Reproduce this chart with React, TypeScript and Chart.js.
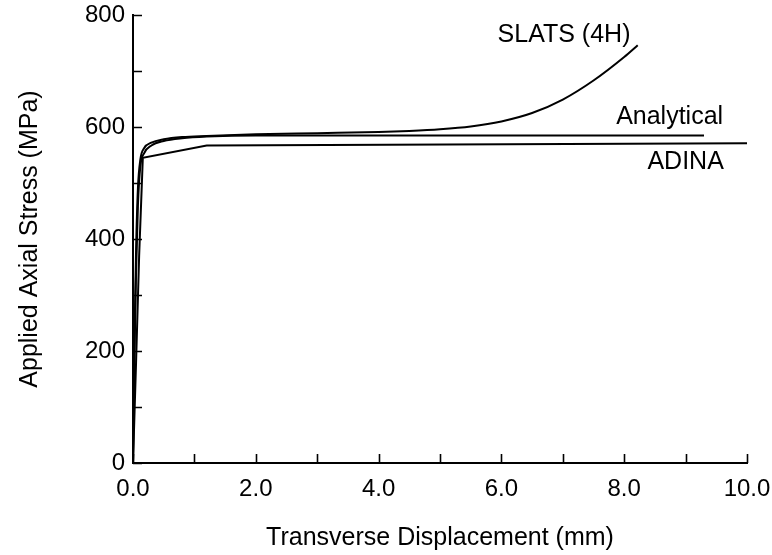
import React, { useEffect, useRef } from 'react';
import { Chart, registerables } from 'chart.js';

Chart.register(...registerables);

// Series data (x: transverse displacement in mm, y: applied axial stress in MPa)
const slatsX = [0, 0.02, 0.05, 0.08, 0.12, 0.18, 0.3, 0.5, 0.8, 1.2, 2, 3, 4, 4.5, 5, 5.5, 6, 6.5, 7, 7.5, 8, 8.22];
const slatsY = [0, 200, 380, 490, 542, 562, 572, 578, 582, 584, 587, 589, 591, 593, 596, 601, 610, 625, 649, 683, 725, 746];

const analyticalX = [0, 0.02, 0.05, 0.08, 0.12, 0.18, 0.3, 0.5, 0.8, 1.2, 2, 9.3];
const analyticalY = [0, 170, 340, 460, 530, 553, 567, 575, 580, 583, 585, 585];

const adinaX = [0, 0.05, 0.1, 0.16, 1.2, 10];
const adinaY = [0, 180, 370, 545, 567, 571];

const xTickLabels = ['0.0', '2.0', '4.0', '6.0', '8.0', '10.0'];
const yTickLabels = ['0', '200', '400', '600', '800'];
const xMinorTicks = [0, 1, 2, 3, 4, 5, 6, 7, 8, 9, 10];
const yMinorTicks = [0, 100, 200, 300, 400, 500, 600, 700, 800];

const curveLabels = ['SLATS (4H)', 'Analytical', 'ADINA'];
const curveLabelX = [7.02, 8.74, 9.0];
const curveLabelY = [764, 617, 537];

const FONT = "'Liberation Sans', Arial, Helvetica, sans-serif";
const FS = 25;
const TICK_FS = 24;

function toPoints(xs: number[], ys: number[]) {
  return xs.map((x, i) => ({ x, y: ys[i] }));
}

export default function App() {
  const ref = useRef<HTMLCanvasElement | null>(null);

  useEffect(() => {
    const canvas = ref.current;
    if (!canvas) return;

    const decorPlugin = {
      id: 'decor',
      afterDraw(chart: any) {
        const { ctx } = chart;
        const xs = chart.scales.x;
        const ys = chart.scales.y;
        ctx.save();
        ctx.strokeStyle = '#000';
        ctx.lineWidth = 1.6;
        ctx.beginPath();
        for (const v of xMinorTicks) {
          const px = Math.round(xs.getPixelForValue(v)) + 0.5;
          ctx.moveTo(px, ys.bottom);
          ctx.lineTo(px, ys.bottom - 9);
        }
        for (const v of yMinorTicks) {
          const py = Math.round(ys.getPixelForValue(v)) + 0.5;
          ctx.moveTo(xs.left, py);
          ctx.lineTo(xs.left + 9, py);
        }
        ctx.stroke();
        ctx.fillStyle = '#000';
        ctx.font = `${FS}px ${FONT}`;
        ctx.textAlign = 'center';
        ctx.textBaseline = 'middle';
        curveLabels.forEach((t, i) => {
          ctx.fillText(t, xs.getPixelForValue(curveLabelX[i]), ys.getPixelForValue(curveLabelY[i]));
        });
        ctx.restore();
      },
    };

    const lineDs = (label: string, xs: number[], ys: number[], smooth: boolean) => ({
      label,
      data: toPoints(xs, ys),
      borderColor: '#000',
      backgroundColor: '#000',
      borderWidth: 2,
      pointRadius: 0,
      showLine: true,
      fill: false,
      tension: 0,
      cubicInterpolationMode: smooth ? ('monotone' as const) : ('default' as const),
    });

    const chart = new Chart(canvas, {
      type: 'scatter',
      data: {
        datasets: [
          lineDs('SLATS (4H)', slatsX, slatsY, true),
          lineDs('Analytical', analyticalX, analyticalY, true),
          lineDs('ADINA', adinaX, adinaY, false),
        ],
      },
      options: {
        responsive: false,
        animation: false,
        layout: { padding: { top: 15, right: 25, left: 0, bottom: 0 } },
        plugins: {
          legend: { display: false },
          tooltip: { enabled: false },
        },
        scales: {
          x: {
            type: 'linear',
            min: 0,
            max: 10,
            grid: { display: false, drawTicks: false },
            border: { display: true, color: '#000', width: 2 },
            ticks: {
              stepSize: 2,
              color: '#000',
              padding: 12,
              maxRotation: 0,
              font: { family: FONT, size: TICK_FS, lineHeight: 1.2 },
              callback: (v: any) => {
                const i = Math.round(Number(v) / 2);
                return Number(v) % 2 === 0 ? xTickLabels[i] : '';
              },
            },
            title: {
              display: true,
              text: 'Transverse Displacement (mm)',
              color: '#000',
              font: { family: FONT, size: FS, lineHeight: 1.2 },
              padding: { top: 4, bottom: 2 },
            },
            afterFit: (s: any) => {
              s.height = 92;
              s.paddingLeft = 0;
              s.paddingRight = 0;
            },
          },
          y: {
            type: 'linear',
            min: 0,
            max: 800,
            grid: { display: false, drawTicks: false },
            border: { display: true, color: '#000', width: 2 },
            ticks: {
              stepSize: 200,
              color: '#000',
              padding: 8,
              font: { family: FONT, size: TICK_FS, lineHeight: 1.2 },
              callback: (v: any) => {
                const i = Math.round(Number(v) / 200);
                return yTickLabels[i] ?? '';
              },
            },
            title: {
              display: true,
              text: 'Applied Axial Stress (MPa)',
              color: '#000',
              font: { family: FONT, size: FS, lineHeight: 1.2 },
              padding: { top: 15, bottom: 0 },
            },
            afterFit: (s: any) => {
              s.width = 133;
              s.paddingTop = 0;
              s.paddingBottom = 0;
            },
          },
        },
      },
      plugins: [decorPlugin],
    });

    return () => chart.destroy();
  }, []);

  return (
    <div style={{ position: 'fixed', left: 0, top: 0, width: 772, height: 555, background: '#fff' }}>
      <canvas ref={ref} width={772} height={555} style={{ display: 'block' }} />
    </div>
  );
}
